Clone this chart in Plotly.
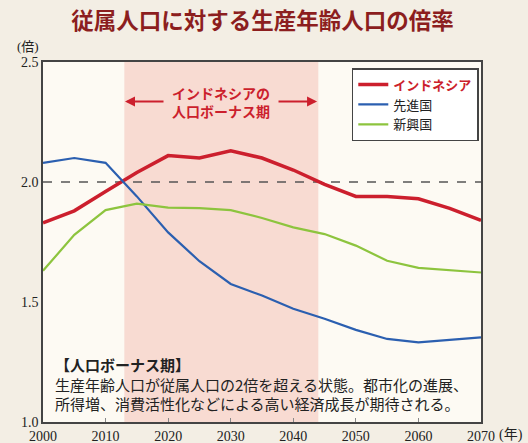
import plotly.graph_objects as go

years = [2000, 2005, 2010, 2015, 2020, 2025, 2030, 2035, 2040, 2045, 2050, 2055, 2060, 2065, 2070]
indonesia = [1.83, 1.88, 1.96, 2.04, 2.11, 2.10, 2.13, 2.10, 2.05, 1.99, 1.94, 1.94, 1.93, 1.89, 1.84]
developed = [2.08, 2.10, 2.08, 1.94, 1.79, 1.67, 1.575, 1.527, 1.472, 1.43, 1.384, 1.346, 1.332, 1.342, 1.353]
emerging = [1.63, 1.78, 1.883, 1.91, 1.893, 1.891, 1.883, 1.85, 1.811, 1.783, 1.735, 1.672, 1.642, 1.634, 1.623]

series_names = ["インドネシア", "先進国", "新興国"]
x_ticks = [2000, 2010, 2020, 2030, 2040, 2050, 2060, 2070]
x_ticktext = ["2000", "2010", "2020", "2030", "2040", "2050", "2060", "2070"]
y_ticks = [1.0, 1.5, 2.0, 2.5]
y_ticktext = ["1.0", "1.5", "2.0", "2.5"]
bonus_start, bonus_end = 2013, 2044
threshold = 2.0
note_lines = ["<b>【人口ボーナス期】</b>",
              "生産年齢人口が従属人口の2倍を超える状態。都市化の進展、",
              "所得増、消費活性化などによる高い経済成長が期待される。"]

RED = "#cc1f2d"
BLUE = "#2b5fb0"
GREEN = "#8dc43e"
BG = "#f3eee4"
CJK = "Noto Sans CJK JP"
SERIF = "Liberation Serif, " + CJK

fig = go.Figure()
fig.add_trace(go.Scatter(x=years, y=indonesia, mode="lines",
                         name="<span style='color:%s'><b>%s</b></span>" % (RED, series_names[0]),
                         line=dict(color=RED, width=3.5)))
fig.add_trace(go.Scatter(x=years, y=developed, mode="lines", name=series_names[1],
                         line=dict(color=BLUE, width=2.2)))
fig.add_trace(go.Scatter(x=years, y=emerging, mode="lines", name=series_names[2],
                         line=dict(color=GREEN, width=2.2)))

fig.add_shape(type="rect", xref="x", yref="paper", x0=bonus_start, x1=bonus_end, y0=0, y1=1,
              fillcolor="#f8dbd2", line=dict(width=0), layer="below")
fig.add_shape(type="line", xref="x", yref="y", x0=2000, x1=2070, y0=threshold, y1=threshold,
              line=dict(color="#555555", width=1.5, dash="dash"), layer="below")

# arrows for bonus period
fig.add_annotation(x=2013.1, y=2.335, ax=2019.5, ay=2.335, xref="x", yref="y", axref="x", ayref="y",
                   text="", showarrow=True, arrowhead=2, arrowsize=1, arrowwidth=2, arrowcolor=RED)
fig.add_annotation(x=2043.8, y=2.335, ax=2037.4, ay=2.335, xref="x", yref="y", axref="x", ayref="y",
                   text="", showarrow=True, arrowhead=2, arrowsize=1, arrowwidth=2, arrowcolor=RED)
fig.add_annotation(x=(bonus_start + bonus_end) / 2, y=2.335, xref="x", yref="y",
                   text="<b>インドネシアの<br>人口ボーナス期</b>", showarrow=False,
                   font=dict(family=CJK, size=14, color=RED), align="center")

# explanatory note (one annotation per line)
note_y = [0.159, 0.105, 0.051]
for txt, yy in zip(note_lines, note_y):
    fig.add_annotation(xref="paper", yref="paper", x=0.022, y=yy, xanchor="left", yanchor="middle",
                       text=txt, showarrow=False, align="left",
                       font=dict(family=CJK, size=15, color="#222222"))

# unit labels
fig.add_annotation(xref="paper", yref="paper", x=-0.035, y=1.0, xanchor="center", yanchor="bottom",
                   yshift=6, text="(倍)", showarrow=False, font=dict(family=SERIF, size=13, color="#222222"))
fig.add_annotation(xref="paper", yref="paper", x=1.037, y=0, xanchor="left", yanchor="top",
                   yshift=-3, text="(年)", showarrow=False, font=dict(family=SERIF, size=14, color="#222222"))

fig.update_layout(
    width=528, height=443,
    margin=dict(l=43, r=47, t=62, b=21),
    paper_bgcolor=BG,
    plot_bgcolor="#fdfaf3",
    title=dict(text="<b>従属人口に対する生産年齢人口の倍率</b>", x=0.497, xanchor="center", y=0.953, yanchor="middle",
               font=dict(family=CJK, size=22.5, color="#8c1e1e")),
    showlegend=True,
    legend=dict(x=0.705, y=0.983, xanchor="left", yanchor="top", bgcolor="#ffffff",
                bordercolor="#444444", borderwidth=1.5, font=dict(family=CJK, size=13, color="#222222"),
                tracegroupgap=0, itemwidth=30),
)
fig.update_xaxes(range=[2000, 2070], tickvals=x_ticks, ticktext=x_ticktext, showgrid=False, zeroline=False,
                 showline=True, linecolor="#444444", linewidth=1.5, mirror=True, automargin=False,
                 ticks="inside", ticklen=4, tickcolor="#888888",
                 tickfont=dict(family=SERIF, size=14, color="#222222"))
fig.update_yaxes(range=[1.0, 2.5], tickvals=y_ticks, ticktext=y_ticktext, showgrid=False, zeroline=False,
                 showline=True, linecolor="#444444", linewidth=1.5, mirror=True, ticks="", automargin=False,
                 tickfont=dict(family=SERIF, size=14, color="#222222"))

fig.write_html("out.html", config={"displayModeBar": False},
               post_script="document.body.style.margin='0';document.body.style.background='%s';" % BG)
